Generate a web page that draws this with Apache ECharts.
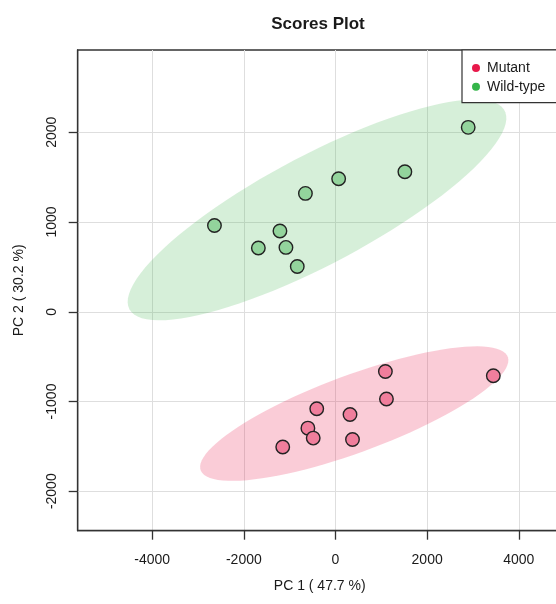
<!DOCTYPE html>
<html>
<head>
<meta charset="utf-8">
<script src="https://cdn.jsdelivr.net/npm/echarts@6/dist/echarts.min.js"></script>
<style>
  html, body { margin: 0; padding: 0; background: #ffffff; overflow: hidden; }
  /* the plot box runs past the right edge of the window */
  #chart { width: 600px; height: 604px; }
</style>
</head>
<body>
<div id="chart"></div>
<script>
// PCA scores, one array per group and component
const mutantPC1 = [1089, 3444, 1112, -409, 317, -602, -486, 371, -1151];
const mutantPC2 = [-666, -713, -973, -1081, -1145, -1297, -1408, -1424, -1508];
const wildPC1 = [2896, 1514, 69, -656, -2641, -1212, -1683, -1081, -834];
const wildPC2 = [2055, 1561, 1483, 1319, 962, 900, 710, 717, 505];

const groupNames = ['Mutant', 'Wild-type'];
const xTicks = [-4000, -2000, 0, 2000, 4000];
const yTicks = [-2000, -1000, 0, 1000, 2000];

const FONT = '"Liberation Sans", Arial, Helvetica, sans-serif';

// 95% normal confidence ellipse (same construction as R's ellipse package)
function confidenceEllipse(xs, ys, level_t, npoints) {
  const n = xs.length;
  const mx = xs.reduce((a, b) => a + b, 0) / n;
  const my = ys.reduce((a, b) => a + b, 0) / n;
  let sxx = 0, syy = 0, sxy = 0;
  for (let i = 0; i < n; i++) {
    const dx = xs[i] - mx, dy = ys[i] - my;
    sxx += dx * dx; syy += dy * dy; sxy += dx * dy;
  }
  sxx /= (n - 1); syy /= (n - 1); sxy /= (n - 1);
  const sx = Math.sqrt(sxx), sy = Math.sqrt(syy);
  const d = Math.acos(sxy / (sx * sy));
  const pts = [];
  for (let k = 0; k < npoints; k++) {
    const a = 2 * Math.PI * k / (npoints - 1);
    pts.push([level_t * sx * Math.cos(a + d / 2) + mx,
              level_t * sy * Math.cos(a - d / 2) + my]);
  }
  return pts;
}
const T95 = Math.sqrt(5.991465);  // sqrt(qchisq(0.95, 2))

const mutantEllipse = confidenceEllipse(mutantPC1, mutantPC2, T95, 100);
const wildEllipse = confidenceEllipse(wildPC1, wildPC2, T95, 100);

const zip = (a, b) => a.map((v, i) => [v, b[i]]);

function ellipseSeries(name, pts, fill) {
  return {
    type: 'custom',
    name: name,
    silent: true,
    z: 1,
    data: [[0, 0]],
    renderItem: function (params, api) {
      return {
        type: 'polygon',
        shape: { points: pts.map(p => api.coord(p)) },
        style: { fill: fill, stroke: null }
      };
    }
  };
}

const chart = echarts.init(document.getElementById('chart'), null, { renderer: 'canvas' });

const plainNumber = v => String(v);
const X_MIN = -5625, X_MAX = 4936;

const axisCommon = {
  type: 'value',
  nameLocation: 'middle',
  nameTextStyle: { fontFamily: FONT, fontSize: 14, color: '#1a1a1a' },
  axisLine: { show: true, onZero: false, lineStyle: { color: '#333', width: 1.3 } },
  axisTick: { show: true, inside: false, length: 9, lineStyle: { color: '#333', width: 1.3 } },
  splitLine: { show: true, lineStyle: { color: '#dedede', width: 1 } },
};

chart.setOption({
  animation: false,
  backgroundColor: '#ffffff',
  graphic: [{
    type: 'text',
    x: 318, y: 24,
    style: {
      text: 'Scores Plot',
      font: 'bold 17px ' + FONT,
      fill: '#1a1a1a',
      textAlign: 'center',
      textVerticalAlign: 'middle'
    }
  }],
  grid: {
    left: 77.7, top: 50, width: 484, height: 480.7,
    outerBoundsMode: 'none',
    containLabel: false,
    show: true, borderColor: '#333', borderWidth: 1.3, backgroundColor: 'transparent'
  },
  legend: {
    data: [
      { name: groupNames[0], itemStyle: { color: '#E8194B', borderWidth: 0 } },
      { name: groupNames[1], itemStyle: { color: '#35B54A', borderWidth: 0 } }
    ],
    orient: 'vertical',
    left: 462, top: 50,
    icon: 'circle',
    itemWidth: 12, itemHeight: 8,
    itemGap: 4.7,
    padding: [11, 40, 9, 10],
    backgroundColor: '#ffffff',
    borderColor: '#333', borderWidth: 1.2, borderRadius: 0,
    textStyle: { fontFamily: FONT, fontSize: 14, color: '#1a1a1a', lineHeight: 14 },
    selectedMode: false,
    z: 10
  },
  xAxis: Object.assign({}, axisCommon, {
    name: 'PC 1 ( 47.7 %)',
    nameGap: 48,
    min: X_MIN, max: X_MAX,
    axisLabel: { customValues: xTicks, formatter: plainNumber, margin: 22, fontFamily: FONT, fontSize: 14, color: '#1a1a1a' },
    axisTick: Object.assign({}, axisCommon.axisTick, { customValues: xTicks }),
  }),
  yAxis: Object.assign({}, axisCommon, {
    name: 'PC 2 ( 30.2 %)',
    nameGap: 52,
    min: -2440, max: 2917,
    axisLabel: { customValues: yTicks, formatter: plainNumber, rotate: 90, margin: 19, fontFamily: FONT, fontSize: 14, color: '#1a1a1a' },
    axisTick: Object.assign({}, axisCommon.axisTick, { customValues: yTicks }),
  }),
  series: [
    ellipseSeries('Mutant region', mutantEllipse, 'rgba(230, 25, 75, 0.22)'),
    ellipseSeries('Wild-type region', wildEllipse, 'rgba(60, 180, 75, 0.21)'),
    {
      type: 'scatter',
      name: groupNames[0],
      z: 3,
      symbol: 'circle',
      symbolSize: 13.5,
      data: zip(mutantPC1, mutantPC2),
      itemStyle: { color: '#F07E9C', borderColor: '#222', borderWidth: 1.4, opacity: 1 }
    },
    {
      type: 'scatter',
      name: groupNames[1],
      z: 3,
      symbol: 'circle',
      symbolSize: 13.5,
      data: zip(wildPC1, wildPC2),
      itemStyle: { color: '#93D49C', borderColor: '#222', borderWidth: 1.4, opacity: 1 }
    }
  ]
});
</script>
</body>
</html>
